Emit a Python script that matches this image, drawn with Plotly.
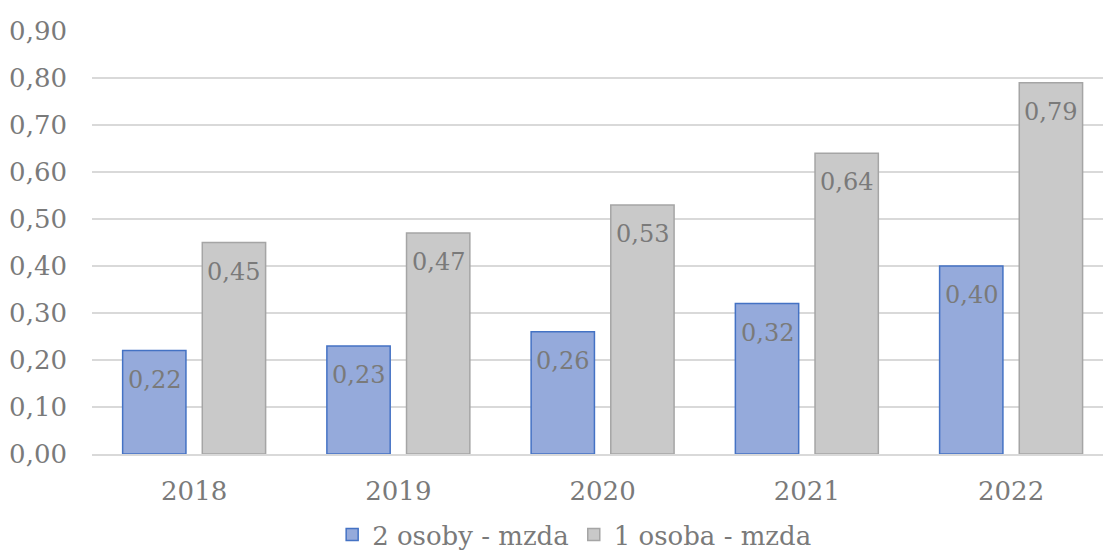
import plotly.graph_objects as go

# Data
years = ["2018", "2019", "2020", "2021", "2022"]
dve_osoby = [0.22, 0.23, 0.26, 0.32, 0.40]
jedna_osoba = [0.45, 0.47, 0.53, 0.64, 0.79]
y_ticks = [0.0, 0.1, 0.2, 0.3, 0.4, 0.5, 0.6, 0.7, 0.8, 0.9]

FONT = "DejaVu Serif"
FSIZE = 26
LABEL_SIZE = 24
TEXT_GREY = "#7a7a7a"
BAR_W = 0.31
OFF_BLUE = -0.35
OFF_GREY = 0.04

x_idx = list(range(len(years)))


def fmt(v):
    return f"{v:.2f}".replace(".", ",")


fig = go.Figure()
fig.add_trace(go.Bar(
    x=x_idx, y=dve_osoby, name="2 osoby - mzda",
    width=BAR_W, offset=OFF_BLUE,
    marker=dict(color="#95aadb", line=dict(color="#4472c4", width=1.5)),
))
fig.add_trace(go.Bar(
    x=x_idx, y=jedna_osoba, name="1 osoba - mzda",
    width=BAR_W, offset=OFF_GREY,
    marker=dict(color="#c9c9c9", line=dict(color="#a5a5a5", width=1.5)),
))

# value labels just inside the top of each bar
annotations = []
for i, (a, b) in enumerate(zip(dve_osoby, jedna_osoba)):
    for val, off in ((a, OFF_BLUE), (b, OFF_GREY)):
        annotations.append(dict(
            x=i + off + BAR_W / 2, y=val, xref="x", yref="y",
            text=fmt(val), showarrow=False, yanchor="middle", yshift=-29,
            font=dict(family=FONT, size=LABEL_SIZE, color=TEXT_GREY),
        ))

fig.update_layout(
    width=1103, height=558,
    margin=dict(l=92, r=0, t=31, b=104),
    paper_bgcolor="white", plot_bgcolor="white",
    font=dict(family=FONT, size=FSIZE, color=TEXT_GREY),
    barmode="overlay",
    showlegend=True,
    legend=dict(
        orientation="h", xref="container", yref="container",
        x=0.521, y=0.0, xanchor="center", yanchor="bottom",
        font=dict(family=FONT, size=FSIZE, color=TEXT_GREY),
        itemwidth=30, traceorder="normal",
    ),
    annotations=annotations,
)
fig.update_xaxes(
    range=[-0.5, 4.45], tickvals=x_idx, ticktext=years,
    showgrid=False, zeroline=False, showline=True,
    linecolor="#d9d9d9", linewidth=1.5, ticks="", ticklabelstandoff=13,
)
fig.update_yaxes(
    range=[0, 0.9], tickvals=y_ticks, ticktext=[fmt(v) for v in y_ticks],
    showgrid=True, gridcolor="#d9d9d9", gridwidth=1.5, zeroline=False,
    showline=False, ticks="", ticklabelstandoff=24,
)

fig.write_html("out.html")
